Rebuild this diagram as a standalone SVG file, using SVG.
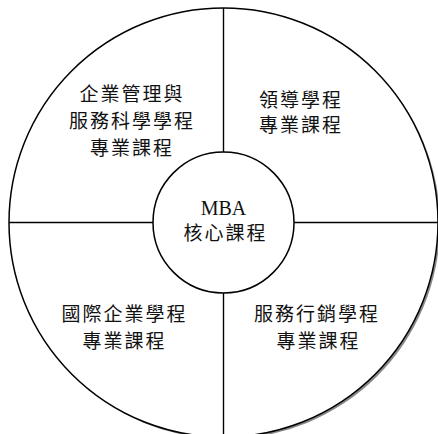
<svg xmlns="http://www.w3.org/2000/svg" width="438" height="434" viewBox="0 0 438 434">
<style>
.t{font-family:"Liberation Serif","Noto Sans CJK TC",serif;font-size:19px;letter-spacing:2px;fill:#111;text-anchor:middle}
.m{font-family:"Liberation Serif","Noto Sans CJK TC",serif;font-size:20px;fill:#111;text-anchor:middle}
.ln{stroke:#000;stroke-width:1.4;fill:none}
</style>
<rect width="438" height="434" fill="#fff"/>
<g id="outer">
<circle cx="225.5" cy="224.5" r="214.5" fill="#888"/>
<circle cx="223.5" cy="222.5" r="214.5" fill="#fff" stroke="#000" stroke-width="1.5"/>
</g>
<g id="connectors">
<line class="ln" x1="223.5" y1="8" x2="223.5" y2="152"/>
<line class="ln" x1="223.5" y1="293" x2="223.5" y2="437"/>
<line class="ln" x1="9" y1="222.5" x2="153" y2="222.5"/>
<line class="ln" x1="294" y1="222.5" x2="438" y2="222.5"/>
</g>
<g id="core">
<circle cx="223.5" cy="222.5" r="70.5" fill="#fff" stroke="#000" stroke-width="1.5"/>
<text class="m" x="223.5" y="215">MBA</text>
<text class="t" x="225.5" y="240">核心課程</text>
</g>
<g id="q1">
<text class="t" x="132" y="101">企業管理與</text>
<text class="t" x="132" y="128">服務科學學程</text>
<text class="t" x="132" y="155">專業課程</text>
</g>
<g id="q2">
<text class="t" x="301" y="106.5">領導學程</text>
<text class="t" x="301" y="132">專業課程</text>
</g>
<g id="q3">
<text class="t" x="124.5" y="321">國際企業學程</text>
<text class="t" x="124.5" y="348">專業課程</text>
</g>
<g id="q4">
<text class="t" x="317" y="321">服務行銷學程</text>
<text class="t" x="318.5" y="348">專業課程</text>
</g>
</svg>
